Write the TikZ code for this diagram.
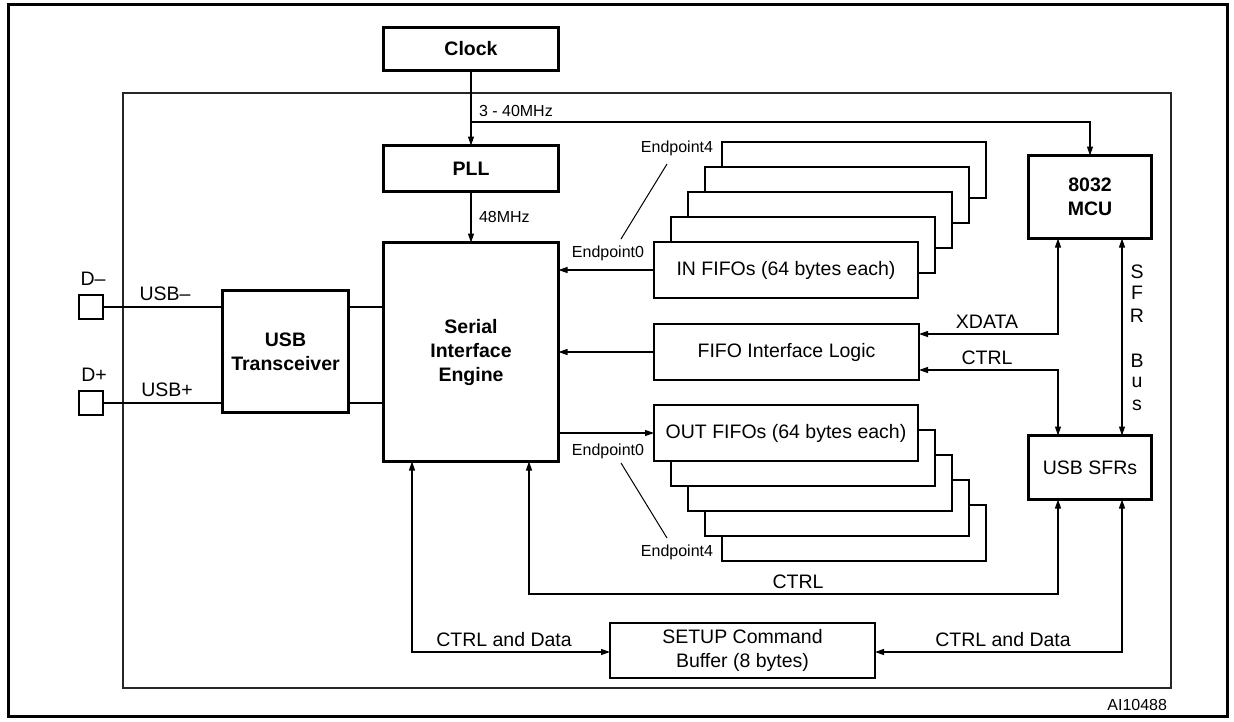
\documentclass[tikz,border=0pt]{standalone}
\usepackage{fontspec}
\setmainfont{Liberation Sans}
\usetikzlibrary{arrows.meta}
\begin{document}
\begin{tikzpicture}[x=1pt,y=-1pt,
  every node/.style={inner sep=0pt, outer sep=0pt},
  lbl/.style={font=\fontsize{19.5}{24}\selectfont},
  small/.style={font=\fontsize{16}{19}\selectfont},
  bigbox/.style={draw, line width=3pt, fill=white, align=center, font=\bfseries\fontsize{19.5}{24}\selectfont},
  midbox/.style={draw, line width=2.7pt, fill=white, align=center, font=\fontsize{19.5}{24}\selectfont},
  fifobox/.style={draw, line width=2.4pt, fill=white, align=center, font=\fontsize{19.5}{24}\selectfont},
  plainbox/.style={draw, line width=2.2pt, fill=white, align=center, font=\fontsize{19.5}{24}\selectfont},
  pad/.style={draw, line width=2.5pt, fill=white, minimum width=24pt, minimum height=24pt},
  stackbox/.style={draw, line width=2.4pt, fill=white},
  conn/.style={line width=1.2pt},
  arr/.style={conn, -{Triangle[length=9pt,width=6pt]}},
  dbl/.style={conn, {Triangle[length=9pt,width=6pt]}-{Triangle[length=9pt,width=6pt]}},
  leader/.style={line width=1pt}
]
\useasboundingbox (0,0) rectangle (1234,721);
% frames
\draw[line width=3pt] (8,4) rectangle (1227,716);
\draw[line width=1.3pt, black!85] (123,93) rectangle (1171,688);

% main blocks
\node[bigbox, minimum width=175pt, minimum height=43pt] (clock) at (471,49) {Clock};
\node[bigbox, minimum width=175pt, minimum height=46pt] (pll) at (471,168.5) {PLL};
\node[bigbox, minimum width=175pt, minimum height=219pt] (sie) at (471,352) {Serial\\Interface\\Engine};
\node[bigbox, minimum width=126pt, minimum height=122pt] (trans) at (285.5,351.5) {USB\\Transceiver};
\node[bigbox, minimum width=123pt, minimum height=83pt] (mcu) at (1090,197) {8032\\MCU};
\node[midbox, minimum width=123pt, minimum height=64pt] (sfr) at (1090,467.5) {USB SFRs};
\node[plainbox, minimum width=265pt, minimum height=56pt] (fil) at (786.5,352) {FIFO Interface Logic};
\node[plainbox, minimum width=265pt, minimum height=55pt] (setup) at (742.5,650.5) {SETUP Command\\Buffer (8 bytes)};

% IN FIFO stack (back to front)
\foreach \k in {4,3,2,1} {
  \draw[stackbox] ({654+17*\k},{242-25*\k}) rectangle ({918+17*\k},{298-25*\k});
}
\node[fifobox, minimum width=264pt, minimum height=56pt] (infifo) at (786,270) {IN FIFOs (64 bytes each)};

% OUT FIFO stack (back to front)
\foreach \k in {4,3,2,1} {
  \draw[stackbox] ({654+17*\k},{405+25*\k}) rectangle ({918+17*\k},{461+25*\k});
}
\node[fifobox, minimum width=264pt, minimum height=56pt] (outfifo) at (786,433) {OUT FIFOs (64 bytes each)};

% pads
\node[pad] (dm) at (91,307) {};
\node[pad] (dp) at (91,403) {};
\node[lbl] (dmlbl) at (93,279) {D–};
\node[lbl] (dplbl) at (94,375) {D+};

% clock connections
\coordinate (br) at (471,122);
\draw[arr] (clock.south) -- (pll.north);
\draw[arr] (br) -| (mcu.north);
\node[small, anchor=west] (f1) at (479,111) {3 - 40MHz};
\draw[arr] (pll.south) -- (sie.north);
\node[small, anchor=west] (f2) at (479,217) {48MHz};

% USB lines
\draw[conn] (dm.east) -- (trans.west |- dm.east);
\draw[conn] (dp.east) -- (trans.west |- dp.east);
\draw[conn] (trans.east |- dm.east) -- (sie.west |- dm.east);
\draw[conn] (trans.east |- dp.east) -- (sie.west |- dp.east);
\node[lbl] (usbm) at (165,294) {USB–};
\node[lbl] (usbp) at (167,390) {USB+};

% FIFO to SIE
\draw[arr] (infifo.west) -- (infifo.west -| sie.east);
\draw[arr] (fil.west) -- (fil.west -| sie.east);
\draw[arr] (outfifo.west -| sie.east) -- (outfifo.west);

% endpoint labels
\node[small] (ep4in) at (677,148) {Endpoint4};
\node[small] (ep0in) at (608,253) {Endpoint0};
\coordinate (l1a) at (667,164);
\coordinate (l1b) at (621,239);
\draw[leader] (l1a) -- (l1b);
\node[small] (ep0out) at (608,451) {Endpoint0};
\node[small] (ep4out) at (677,552) {Endpoint4};
\coordinate (l2a) at (621,463);
\coordinate (l2b) at (667,538);
\draw[leader] (l2a) -- (l2b);

% MCU connections
\coordinate (xd) at (1058,334);
\draw[dbl] (fil.east |- xd) -- (xd) -- (xd |- mcu.south);
\node[lbl] (xdl) at (987,322) {XDATA};
\coordinate (ct) at (1058,370);
\draw[dbl] (fil.east |- ct) -- (ct) -- (ct |- sfr.north);
\node[lbl] (ctl) at (987,358) {CTRL};
\coordinate (sb) at (1122,300);
\draw[dbl] (sb |- mcu.south) -- (sb |- sfr.north);
\foreach \c/\yy in {S/272,F/293,R/316,B/361,u/382,s/405} {
  \node[lbl] at (1137,\yy) {\c};
}

% bottom connections
\coordinate (c1) at (529,594);
\coordinate (c2) at (1058,594);
\draw[dbl] (sie.south -| c1) -- (c1) -- (c2) -- (sfr.south -| c2);
\node[lbl] (ctrlb) at (798,582) {CTRL};
\coordinate (d1) at (412,652);
\draw[dbl] (sie.south -| d1) -- (d1) -- (setup.west |- d1);
\node[lbl] (cd1) at (504,640) {CTRL and Data};
\coordinate (d2) at (1122,652);
\draw[dbl] (sfr.south -| d2) -- (d2) -- (setup.east |- d2);
\node[lbl] (cd2) at (1003,640) {CTRL and Data};

\node[small, anchor=east] (ai) at (1167,705) {AI10488};
\end{tikzpicture}
\end{document}
